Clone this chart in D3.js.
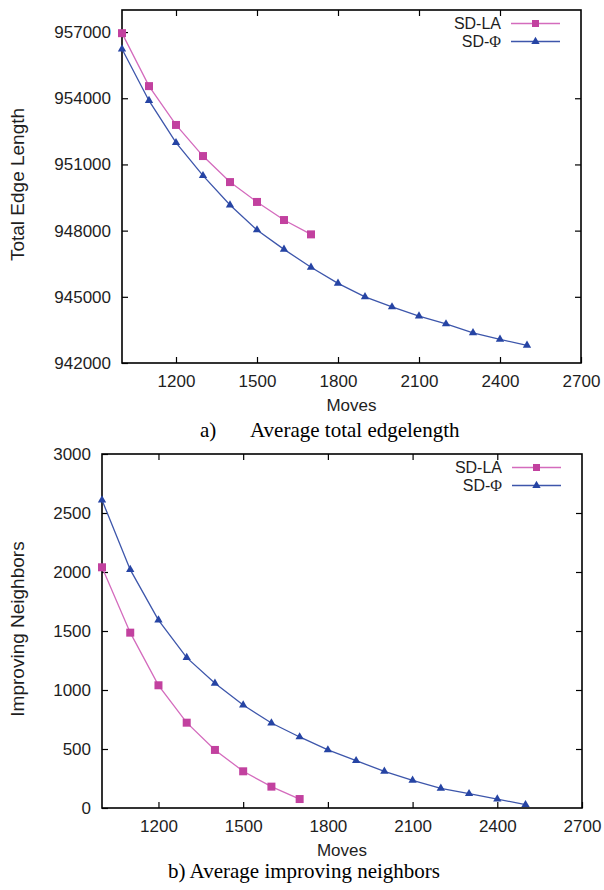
<!DOCTYPE html>
<html>
<head>
<meta charset="utf-8">
<script src="https://cdn.jsdelivr.net/npm/d3@7"></script>
<style>
  html, body { margin: 0; padding: 0; background: #fff; }
  svg { display: block; }
  .tick text { font-family: "Liberation Sans", Arial, sans-serif; font-size: 17px; fill: #1e1e1e; }
  .tick line { stroke: #000; stroke-width: 1.2; }
</style>
</head>
<body>
<svg id="chart" width="604" height="890"></svg>
<script>
// Moves at which each heuristic was sampled
const movesLA  = [1000, 1100, 1200, 1300, 1400, 1500, 1600, 1700];
const movesPhi = [1000, 1100, 1200, 1300, 1400, 1500, 1600, 1700,
                  1800, 1900, 2000, 2100, 2200, 2300, 2400, 2500];

// (a) average total edge length
const edgeLA  = [956950, 954550, 952790, 951380, 950200, 949300, 948480, 947830];
const edgePhi = [956230, 953890, 951985, 950490, 949160, 948030, 947150, 946340,
                 945610, 945000, 944540, 944130, 943770, 943370, 943070, 942800];

// (b) average number of improving neighbors
const nbrLA  = [2040, 1486, 1040, 723, 492, 311, 181, 76];
const nbrPhi = [2610, 2020, 1593, 1274, 1057, 873, 720, 602,
                492, 401, 311, 235, 167, 121, 76, 28];

// Axis ticks
const xTicks     = [1200, 1500, 1800, 2100, 2400, 2700];
const edgeTicks  = [942000, 945000, 948000, 951000, 954000, 957000];
const nbrTicks   = [0, 500, 1000, 1500, 2000, 2500, 3000];

// Legend entries: plain prefix plus a symbol set in a serif face
const seriesNames = [["SD-LA", ""], ["SD-", "\u03A6"]];

const style = {
  la:  { line: "#d46bbd", mark: "#c2419f" },
  phi: { line: "#3d56ab", mark: "#2644a4" }
};

const sans = "Liberation Sans, Arial, sans-serif";
const serif = "Liberation Serif, Times New Roman, serif";

const svg = d3.select("#chart");

function panel(cfg) {
  const g = svg.append("g");
  const x = d3.scaleLinear().domain([1000, 2700]).range([cfg.left, cfg.right]);
  const y = d3.scaleLinear().domain(cfg.yDomain).range([cfg.bottom, cfg.top]);
  const tick = 6;

  // bottom axis, ticks pointing inward
  g.append("g")
    .attr("transform", `translate(0,${cfg.bottom})`)
    .call(d3.axisBottom(x).tickValues(xTicks).tickSize(-tick).tickPadding(12).tickFormat(d3.format("d")))
    .call(a => a.select(".domain").remove());
  // mirrored top ticks
  g.append("g")
    .attr("transform", `translate(0,${cfg.top})`)
    .call(d3.axisTop(x).tickValues(xTicks.slice(0, -1)).tickSize(-tick).tickFormat(""))
    .call(a => a.select(".domain").remove());
  // left axis
  g.append("g")
    .attr("transform", `translate(${cfg.left},0)`)
    .call(d3.axisLeft(y).tickValues(cfg.yTicks).tickSize(-tick).tickPadding(11).tickFormat(d3.format("d")))
    .call(a => a.select(".domain").remove());
  // mirrored right ticks
  g.append("g")
    .attr("transform", `translate(${cfg.right},0)`)
    .call(d3.axisRight(y).tickValues(cfg.yTicks.slice(1, -1)).tickSize(-tick).tickFormat(""))
    .call(a => a.select(".domain").remove());

  // frame
  g.append("rect")
    .attr("x", cfg.left).attr("y", cfg.top)
    .attr("width", cfg.right - cfg.left).attr("height", cfg.bottom - cfg.top)
    .attr("fill", "none").attr("stroke", "#000").attr("stroke-width", 1.6);

  const line = d3.line().x(d => x(d[0])).y(d => y(d[1]));

  const series = [
    { key: "la",  xs: movesLA,  ys: cfg.la,  shape: d3.symbolSquare,   size: 64 },
    { key: "phi", xs: movesPhi, ys: cfg.phi, shape: d3.symbolTriangle, size: 30 }
  ];

  series.slice().reverse().forEach(s => {
    const pts = s.xs.map((v, i) => [v, s.ys[i]]);
    g.append("path")
      .datum(pts)
      .attr("d", line)
      .attr("fill", "none")
      .attr("stroke", style[s.key].line)
      .attr("stroke-width", 1.3);
    g.selectAll(null)
      .data(pts)
      .join("path")
      .attr("transform", d => `translate(${x(d[0])},${y(d[1])})`)
      .attr("d", d3.symbol(s.shape, s.size))
      .attr("fill", style[s.key].mark);
  });

  // legend
  series.forEach((s, i) => {
    const ly = cfg.top + 13.5 + i * 18;
    const t = g.append("text")
      .attr("x", cfg.right - 80).attr("y", ly)
      .attr("dy", "0.35em")
      .attr("text-anchor", "end")
      .attr("font-family", sans)
      .attr("font-size", 16)
      .attr("fill", "#1e1e1e");
    t.append("tspan").text(seriesNames[i][0]);
    if (seriesNames[i][1]) {
      t.append("tspan").attr("font-family", serif).text(seriesNames[i][1]);
    }
    g.append("line")
      .attr("x1", cfg.right - 70).attr("x2", cfg.right - 21)
      .attr("y1", ly).attr("y2", ly)
      .attr("stroke", style[s.key].line).attr("stroke-width", 1.3);
    g.append("path")
      .attr("transform", `translate(${cfg.right - 45.5},${ly})`)
      .attr("d", d3.symbol(s.shape, s.key === "la" ? 49 : 30))
      .attr("fill", style[s.key].mark);
  });

  // axis titles
  g.append("text")
    .attr("x", (cfg.left + cfg.right) / 2).attr("y", cfg.bottom + 48)
    .attr("text-anchor", "middle")
    .attr("font-family", sans)
    .attr("font-size", 17)
    .attr("fill", "#1e1e1e")
    .text("Moves");
  g.append("text")
    .attr("transform", `translate(24,${(cfg.top + cfg.bottom) / 2 - 2}) rotate(-90)`)
    .attr("text-anchor", "middle")
    .attr("font-family", sans)
    .attr("font-size", 19)
    .attr("fill", "#1e1e1e")
    .text(cfg.yTitle);
}

panel({
  left: 122, right: 581, top: 10, bottom: 363,
  yDomain: [942000, 958000], yTicks: edgeTicks,
  la: edgeLA, phi: edgePhi, yTitle: "Total Edge Length"
});

panel({
  left: 102, right: 582, top: 454, bottom: 808,
  yDomain: [0, 3000], yTicks: nbrTicks,
  la: nbrLA, phi: nbrPhi, yTitle: "Improving Neighbors"
});

// captions
svg.append("text").attr("x", 200).attr("y", 437)
  .attr("font-family", serif).attr("font-size", 21).attr("fill", "#000").text("a)");
svg.append("text").attr("x", 250).attr("y", 437)
  .attr("font-family", serif).attr("font-size", 21).attr("fill", "#000").text("Average total edgelength");
svg.append("text").attr("x", 168).attr("y", 878)
  .attr("font-family", serif).attr("font-size", 21).attr("fill", "#000").text("b) Average improving neighbors");
</script>
</body>
</html>
